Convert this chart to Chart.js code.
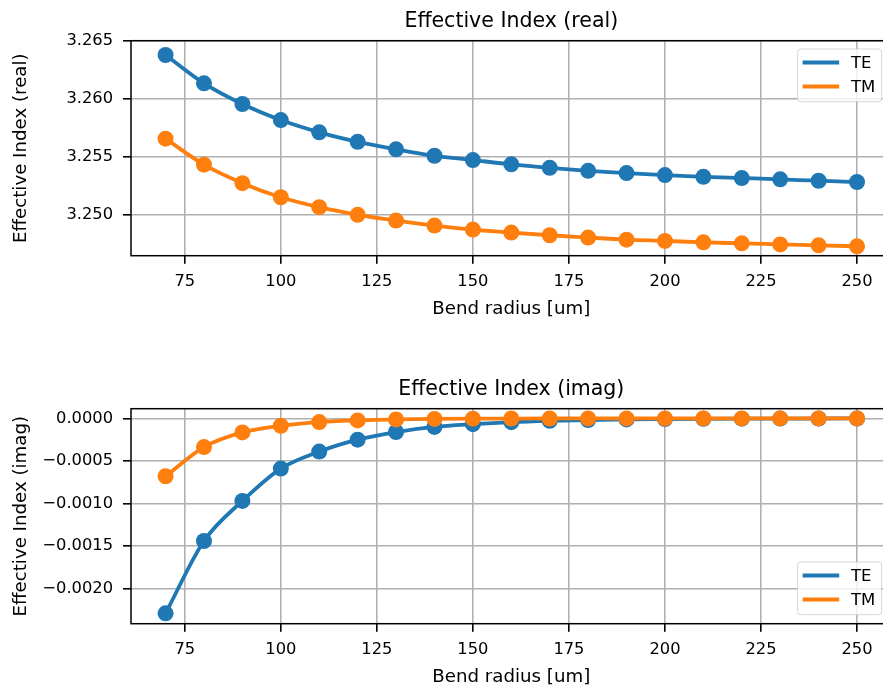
<!DOCTYPE html>
<html>
<head>
<meta charset="utf-8">
<script src="https://cdn.jsdelivr.net/npm/chart.js@4.4.0/dist/chart.umd.min.js"></script>
<style>
  html, body { margin: 0; padding: 0; background: #fff; overflow: hidden; width: 883px; height: 689px; }
  .panel { position: absolute; left: 0; }
</style>
</head>
<body>
<div class="panel" style="top:0"><canvas id="realChart" width="900" height="345"></canvas></div>
<div class="panel" style="top:368px"><canvas id="imagChart" width="900" height="345"></canvas></div>
<script>
// bend radius samples [um]
const bendRadius = [70, 80, 90, 100, 110, 120, 130, 140, 150, 160, 170, 180, 190, 200, 210, 220, 230, 240, 250];

// effective index, real part
const teReal = [3.26379, 3.26134, 3.25955, 3.25816, 3.2571, 3.25628, 3.25563, 3.25507, 3.2547, 3.25433,
                3.25403, 3.25377, 3.25357, 3.2534, 3.25325, 3.25314, 3.25303, 3.25291, 3.2528];
const tmReal = [3.25655, 3.2543, 3.2527, 3.25148, 3.25062, 3.24996, 3.24946, 3.24903, 3.24868, 3.24842,
                3.24819, 3.24799, 3.24781, 3.2477, 3.24758, 3.24749, 3.2474, 3.24732, 3.24723];

// effective index, imaginary part
const teImag = [-0.00229, -0.00144, -0.00097, -0.00059, -0.00039, -0.00025, -0.00016, -0.0001, -0.000068, -0.000044,
                -0.000029, -0.000019, -0.000012, -0.000008, -0.000005, -0.000003, -0.000002, -0.0000013, -0.0000008];
const tmImag = [-0.00068, -0.000337, -0.000165, -0.000086, -0.000043, -0.000024, -0.000012, -0.000006, -0.000003, -0.0000015,
                -0.0000008, -0.0000004, -0.0000002, -0.0000001, -0.00000005, 0, 0, 0, 0];

// tick labels
const xTicks = [75, 100, 125, 150, 175, 200, 225, 250];
const yTicksReal = [3.250, 3.255, 3.260, 3.265];
const yTicksImag = [-0.0020, -0.0015, -0.0010, -0.0005, 0.0000];

Chart.defaults.font.family = '"DejaVu Sans", sans-serif';
Chart.defaults.color = '#000';

const framePlugin = {
  id: 'frame',
  afterDraw(chart) {
    const { ctx, chartArea: a } = chart;
    ctx.save();
    ctx.strokeStyle = '#000';
    ctx.lineWidth = 1.5;
    ctx.strokeRect(a.left, a.top, a.right - a.left, a.bottom - a.top);
    ctx.restore();
  }
};

// matplotlib-like legend box inside the axes
const boxLegend = {
  id: 'boxLegend',
  afterDraw(chart, args, opts) {
    const { ctx, chartArea: a } = chart;
    const w = 84, h = 52.7;
    const x0 = a.right - 10 - w;
    const y0 = opts.loc === 'lower' ? a.bottom - 9 - h : a.top + 8.3;
    ctx.save();
    ctx.beginPath();
    ctx.roundRect(x0, y0, w, h, 3);
    ctx.fillStyle = 'rgba(255,255,255,0.8)';
    ctx.fill();
    ctx.strokeStyle = 'rgba(204,204,204,0.8)';
    ctx.lineWidth = 1;
    ctx.stroke();
    ctx.font = '16.5px "DejaVu Sans"';
    ctx.textBaseline = 'middle';
    chart.data.datasets.forEach((ds, i) => {
      const y = y0 + 13.5 + i * 24;
      ctx.strokeStyle = ds.borderColor;
      ctx.lineWidth = 3.8;
      ctx.beginPath();
      ctx.moveTo(x0 + 5, y);
      ctx.lineTo(x0 + 41.6, y);
      ctx.stroke();
      ctx.fillStyle = '#000';
      ctx.fillText(ds.label, x0 + 53.3, y + 1);
    });
    ctx.restore();
  }
};

function series(label, values, color, order) {
  return {
    label: label,
    data: bendRadius.map((r, i) => ({ x: r, y: values[i] })),
    borderColor: color,
    backgroundColor: color,
    borderWidth: 3.8,
    pointRadius: 8,
    pointBorderWidth: 0,
    cubicInterpolationMode: 'monotone',
    order: order
  };
}

function makeChart(id, title, yLabel, te, tm, yMin, yMax, yTicks, digits, legendLoc) {
  const ctx = document.getElementById(id).getContext('2d');
  return new Chart(ctx, {
    type: 'line',
    data: {
      datasets: [
        series('TE', te, '#1f77b4', 2),
        series('TM', tm, '#ff7f0e', 1)
      ]
    },
    options: {
      responsive: false,
      animation: false,
      layout: { padding: { left: 0, right: 8.4, top: 0, bottom: 0 } },
      plugins: {
        legend: { display: false },
        tooltip: { enabled: false },
        title: {
          display: true,
          text: title,
          fullSize: false,
          font: { size: 20.5, weight: 'normal' },
          padding: { top: 9.1, bottom: 7.0 }
        },
        boxLegend: { loc: legendLoc }
      },
      scales: {
        x: {
          type: 'linear',
          min: 61,
          max: 259,
          afterFit: s => { s.height = 89.3; },
          afterBuildTicks: s => { s.ticks = xTicks.map(v => ({ value: v })); },
          grid: { color: '#b0b0b0', lineWidth: 1.6, tickColor: '#000', tickLength: 8, tickWidth: 1.6 },
          border: { display: false },
          ticks: { font: { size: 16.3 }, padding: 8.3, maxRotation: 0, callback: v => String(v) },
          title: { display: true, text: 'Bend radius [um]', font: { size: 18.2 }, padding: { top: 0, bottom: 24.5 } }
        },
        y: {
          type: 'linear',
          min: yMin,
          max: yMax,
          afterFit: s => { s.width = 131; },
          afterBuildTicks: s => { s.ticks = yTicks.map(v => ({ value: v })); },
          grid: { color: '#b0b0b0', lineWidth: 1.6, tickColor: '#000', tickLength: 8, tickWidth: 1.6 },
          border: { display: false },
          ticks: { font: { size: 16.3 }, padding: 10, callback: v => v.toFixed(digits).replace('-', '\u2212') },
          title: { display: true, text: yLabel, font: { size: 18.2 }, padding: { top: 10.4, bottom: 0 } }
        }
      }
    },
    plugins: [framePlugin, boxLegend]
  });
}

makeChart('realChart', 'Effective Index (real)', 'Effective Index (real)', teReal, tmReal,
  3.24642, 3.26503, yTicksReal, 3, 'upper');
makeChart('imagChart', 'Effective Index (imag)', 'Effective Index (imag)', teImag, tmImag,
  -0.002412, 0.000114, yTicksImag, 4, 'lower');
</script>
</body>
</html>
